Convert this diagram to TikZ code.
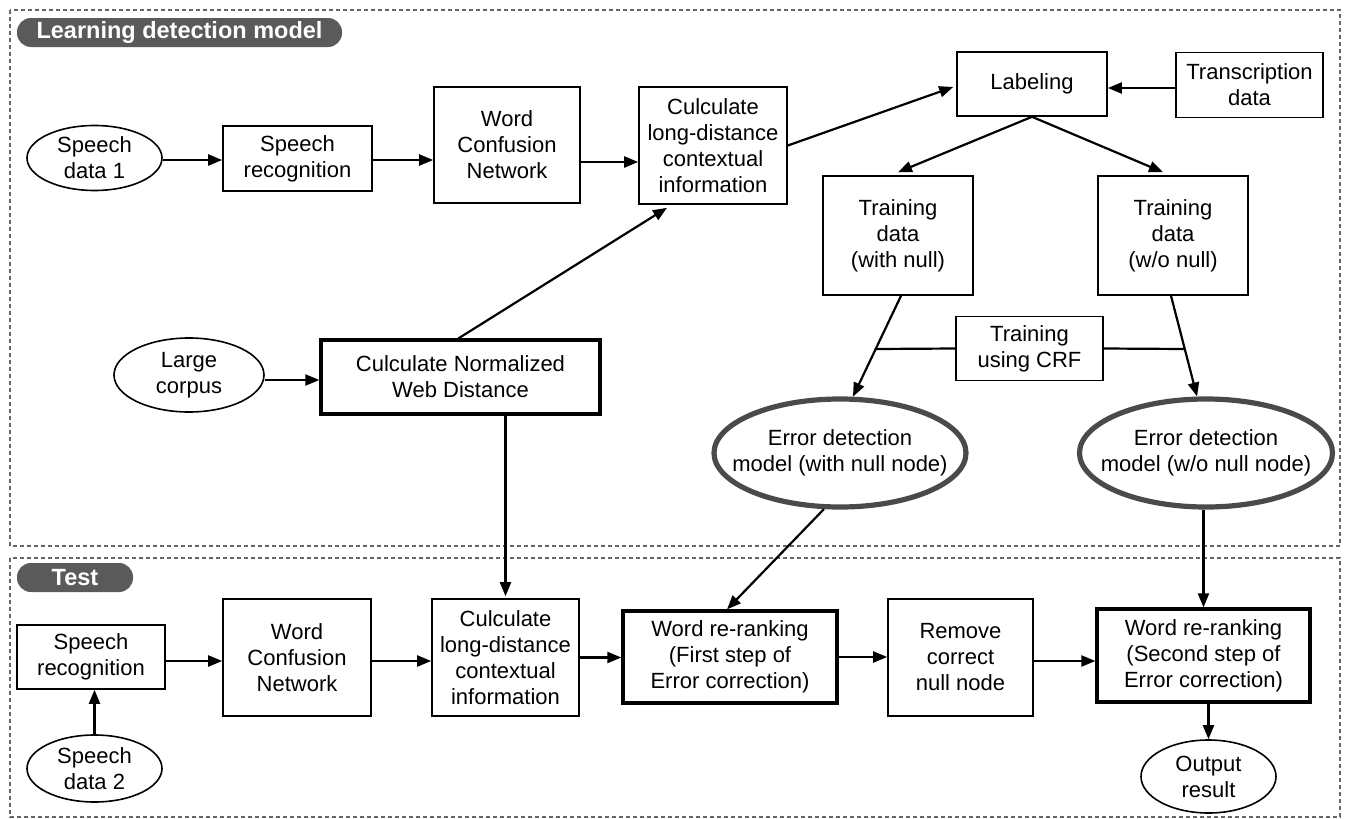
\documentclass[tikz,border=0pt]{standalone}
\usepackage{fontspec}
\setmainfont{Liberation Sans}
\usetikzlibrary{shapes.geometric,arrows.meta,calc}
\definecolor{pillgray}{HTML}{5A5A5A}
\definecolor{ringgray}{HTML}{4A4A4A}
\definecolor{framegray}{HTML}{666666}
\begin{document}
\begin{tikzpicture}[x=1pt,y=-1pt,
  font=\fontsize{22}{26}\selectfont,
  box/.style={draw, line width=1.6pt, align=center, inner sep=0pt},
  tbox/.style={draw, line width=3.3pt, align=center, inner sep=0pt},
  oval/.style={draw, ellipse, line width=1.6pt, align=center, inner sep=0pt},
  goval/.style={draw=ringgray, ellipse, line width=5.2pt, inner sep=0pt},
  arr/.style={-{Triangle[length=14pt,width=11pt]}, line width=2.2pt},
  link/.style={line width=2.2pt},
  frame/.style={draw=framegray, dash pattern=on 4pt off 3pt, line width=1.4pt},
  pill/.style={fill=pillgray, rounded corners=14pt, text=white, inner sep=0pt,
               font=\fontsize{23.5}{27}\selectfont\bfseries}]
\useasboundingbox (0,0) rectangle (1345,819);
\fill[white] (0,0) rectangle (1345,819);

% frames
\draw[frame] (10,10) rectangle (1340,546);
\draw[frame] (10,558) rectangle (1340,817);

% section labels
\node[pill, minimum width=325pt, minimum height=29pt] (t1) at (179.5,32.5) {Learning detection model};
\node[pill, minimum width=116pt, minimum height=29pt] (t2) at (75,577.5) {Test};

% top section nodes
\node[oval, minimum width=135pt, minimum height=65pt] (sd1) at (94.5,158) {Speech\\data 1};
\node[box, minimum width=149pt, minimum height=65pt] (sr1) at (297.5,158.5) {Speech\\recognition};
\node[box, minimum width=146pt, minimum height=116pt] (wcn1) at (507,145) {Word\\Confusion\\Network};
\node[box, minimum width=148pt, minimum height=117pt] (cld1) at (713,145.5) {Culculate\\long-distance\\contextual\\information};
\node[box, minimum width=150pt, minimum height=64pt] (lab) at (1032,84) {Labeling};
\node[box, minimum width=147pt, minimum height=65pt] (trans) at (1249.5,85) {Transcription\\data};
\node[box, minimum width=150pt, minimum height=119pt] (tw) at (898,235.5) {Training\\data\\(with null)};
\node[box, minimum width=150pt, minimum height=119pt] (two) at (1173,235.5) {Training\\data\\(w/o null)};
\node[box, minimum width=147pt, minimum height=64pt] (crf) at (1029.5,348.5) {Training\\using CRF};
\node[goval, minimum width=252pt, minimum height=108pt,
      label={[align=center]center:Error detection\\model (with null node)}] (edw) at (840,453) {};
\node[goval, minimum width=253pt, minimum height=108pt,
      label={[align=center]center:Error detection\\model (w/o null node)}] (edo) at (1206,453) {};
\node[oval, minimum width=150pt, minimum height=74pt] (lc) at (189,375) {Large\\corpus};
\node[tbox, minimum width=279pt, minimum height=74pt] (nwd) at (460.5,377) {Culculate Normalized\\Web Distance};

% bottom section nodes
\node[box, minimum width=148pt, minimum height=64pt] (sr2) at (91,657) {Speech\\recognition};
\node[oval, minimum width=135pt, minimum height=67pt] (sd2) at (94.5,768.5) {Speech\\data 2};
\node[box, minimum width=148pt, minimum height=117pt] (wcn2) at (297,657.5) {Word\\Confusion\\Network};
\node[box, minimum width=147pt, minimum height=117pt] (cld2) at (505.5,657.5) {Culculate\\long-distance\\contextual\\information};
\node[tbox, minimum width=214pt, minimum height=92pt] (wr1) at (730,657) {Word re-ranking\\(First step of\\Error correction)};
\node[box, minimum width=145pt, minimum height=117pt] (rem) at (960.5,657.5) {Remove\\correct\\null node};
\node[tbox, minimum width=213pt, minimum height=93pt] (wr2) at (1203.5,655.5) {Word re-ranking\\(Second step of\\Error correction)};
\node[oval, minimum width=135pt, minimum height=73pt] (out) at (1208.5,776.5) {Output\\result};

% helper coordinates
\coordinate (crfL) at (876,349);
\coordinate (crfR) at (1184,349);

% top connectors
\draw[arr] ([yshift=-2pt]sd1.east) -- ([yshift=-2pt]sd1.east -| sr1.west);
\draw[arr] ([yshift=-1.5pt]sr1.east) -- ([yshift=-1.5pt]sr1.east -| wcn1.west);
\draw[arr] ([yshift=-17pt]wcn1.east) -- ([yshift=-17pt]wcn1.east -| cld1.west);
\draw[arr] (cld1.east) -- ([xshift=-3pt,yshift=-3pt]lab.west);
\draw[arr] ([yshift=-3pt]trans.west) -- ([yshift=-3pt]trans.west -| lab.east);
\draw[arr] (lab.south) -- ([yshift=3pt]tw.north);
\draw[arr] (lab.south) -- ([xshift=-10pt,yshift=3pt]two.north);
\draw[arr] ([xshift=3pt]tw.south) -- (edw.77);
\draw[arr] ([xshift=-2pt]two.south) -- (edo.99);
\draw[link] (crf.west) -- (crfL);
\draw[link] (crf.east) -- (crfR);
\draw[arr] ([xshift=-2pt]nwd.north) -- ([xshift=-46pt,yshift=-3pt]cld1.south);
\draw[arr] ([yshift=-5pt]lc.east) -- ([yshift=-5pt]lc.east -| nwd.west);

% links into test section
\draw[arr] (cld2.north |- nwd.south) -- ([yshift=2pt]cld2.north);
\draw[arr] (edw.254) -- ([xshift=-3pt]wr1.north);
\draw[arr] (edo.south -| wr2.north) -- (wr2.north);

% bottom connectors
\draw[arr] (sd2.north) -- (sd2.north |- sr2.south);
\draw[arr] ([yshift=-4pt]sr2.east) -- ([yshift=-4pt]sr2.east -| wcn2.west);
\draw[arr] ([yshift=-3.5pt]wcn2.east) -- ([yshift=-3.5pt]wcn2.east -| cld2.west);
\draw[arr] (cld2.east) -- (cld2.east -| wr1.west);
\draw[arr] (wr1.east) -- (wr1.east -| rem.west);
\draw[arr] ([yshift=-3.5pt]rem.east) -- ([yshift=-3.5pt]rem.east -| wr2.west);
\draw[arr] (wr2.south -| out.north) -- (out.north);
\end{tikzpicture}
\end{document}
